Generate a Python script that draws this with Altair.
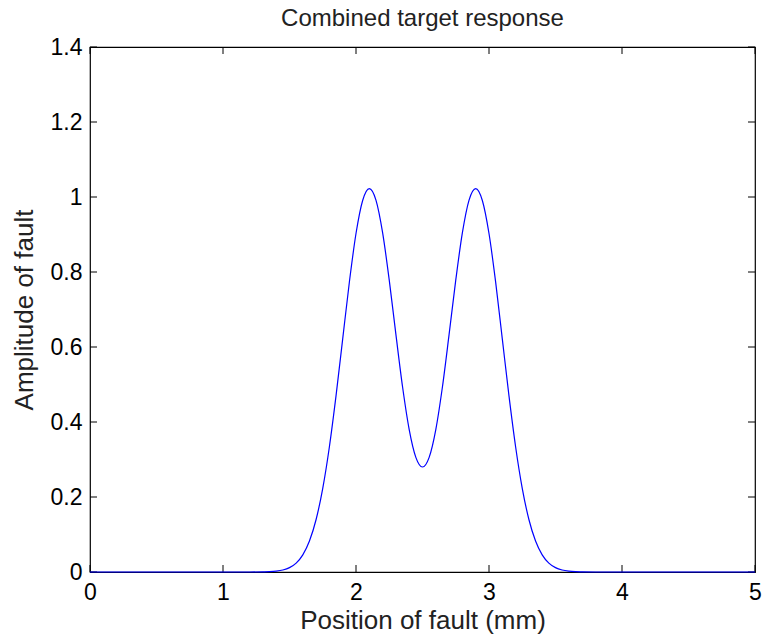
import altair as alt
import pandas as pd

# Curve
x_pos = [0.0, 0.5, 1.0, 1.2, 1.3, 1.35, 1.4, 1.45, 1.5, 1.55, 1.6, 1.65, 1.7, 1.75,
         1.8, 1.85, 1.9, 1.95, 2.0, 2.05, 2.1, 2.15, 2.2, 2.25, 2.3, 2.35, 2.4, 2.45,
         2.5, 2.55, 2.6, 2.65, 2.7, 2.75, 2.8, 2.85, 2.9, 2.95, 3.0, 3.05, 3.1, 3.15,
         3.2, 3.25, 3.3, 3.35, 3.4, 3.45, 3.5, 3.55, 3.6, 3.65, 3.7, 3.8, 4.0, 4.5, 5.0]
amplitude = [0.0, 0.0, 0.0, 0.0, 0.0004, 0.0009, 0.0023, 0.0054, 0.0117, 0.0238, 0.0458,
             0.0826, 0.140, 0.2231, 0.3341, 0.4702, 0.6218, 0.7728, 0.9026, 0.9907,
             1.0224, 0.9917, 0.9049, 0.7782, 0.6335, 0.4940, 0.3799, 0.3057, 0.280,
             0.3057, 0.3799, 0.4940, 0.6335, 0.7782, 0.9049, 0.9917, 1.0224, 0.9907,
             0.9026, 0.7728, 0.6218, 0.4702, 0.3341, 0.2231, 0.140, 0.0826, 0.0458,
             0.0238, 0.0117, 0.0054, 0.0023, 0.0009, 0.0004, 0.0, 0.0, 0.0, 0.0]

x_ticks = [0, 1, 2, 3, 4, 5]
y_ticks = [0, 0.2, 0.4, 0.6, 0.8, 1.0, 1.2, 1.4]

W, H = 665, 525
TL = 7
FONT = "Liberation Sans"

df = pd.DataFrame({"x": x_pos, "y": amplitude})
xt = pd.DataFrame({"v": x_ticks})
yt = pd.DataFrame({"v": y_ticks})

xscale = alt.Scale(domain=[0, 5], nice=False, zero=False)
yscale = alt.Scale(domain=[0, 1.4], nice=False, zero=False)

line = alt.Chart(df).mark_line(color="#0000ff", strokeWidth=1.2, interpolate="monotone").encode(
    x=alt.X("x:Q", scale=xscale,
            axis=alt.Axis(values=x_ticks, title="Position of fault (mm)", ticks=False,
                          domain=False, grid=False, labelPadding=9, titlePadding=3,
                          labelFlush=False, labelOverlap=False,
                          labelFontSize=23, titleFontSize=26, titleFontWeight="normal",
                          labelColor="black", titleColor="#222222", labelFont=FONT,
                          titleFont=FONT, format="~g")),
    y=alt.Y("y:Q", scale=yscale,
            axis=alt.Axis(values=y_ticks, title="Amplitude of fault", ticks=False,
                          domain=False, grid=False, labelPadding=8, titlePadding=13,
                          labelFlush=False, labelOverlap=False,
                          labelFontSize=23, titleFontSize=26, titleFontWeight="normal",
                          labelColor="black", titleColor="#222222", labelFont=FONT,
                          titleFont=FONT, format="~g")),
)

tick_style = dict(color="black", strokeWidth=1)
xb = alt.Chart(xt).mark_rule(**tick_style).encode(
    x=alt.X("v:Q", scale=xscale), y=alt.value(H), y2=alt.value(H - TL))
xtp = alt.Chart(xt).mark_rule(**tick_style).encode(
    x=alt.X("v:Q", scale=xscale), y=alt.value(0), y2=alt.value(TL))
yl = alt.Chart(yt).mark_rule(**tick_style).encode(
    y=alt.Y("v:Q", scale=yscale), x=alt.value(0), x2=alt.value(TL))
yr = alt.Chart(yt).mark_rule(**tick_style).encode(
    y=alt.Y("v:Q", scale=yscale), x=alt.value(W - TL), x2=alt.value(W))

chart = alt.layer(xb, xtp, yl, yr, line).properties(
    width=W, height=H,
    title=alt.TitleParams("Combined target response", font=FONT, fontSize=24,
                          fontWeight="normal", color="#222222", offset=5, anchor="middle"),
    autosize=alt.AutoSizeParams(type="none"),
    padding={"left": 90, "top": 47, "right": 9, "bottom": 67},
    background="white",
).configure_view(stroke="black", strokeWidth=1.2)

chart.save("out.html", embed_options={"renderer": "svg", "actions": False})
